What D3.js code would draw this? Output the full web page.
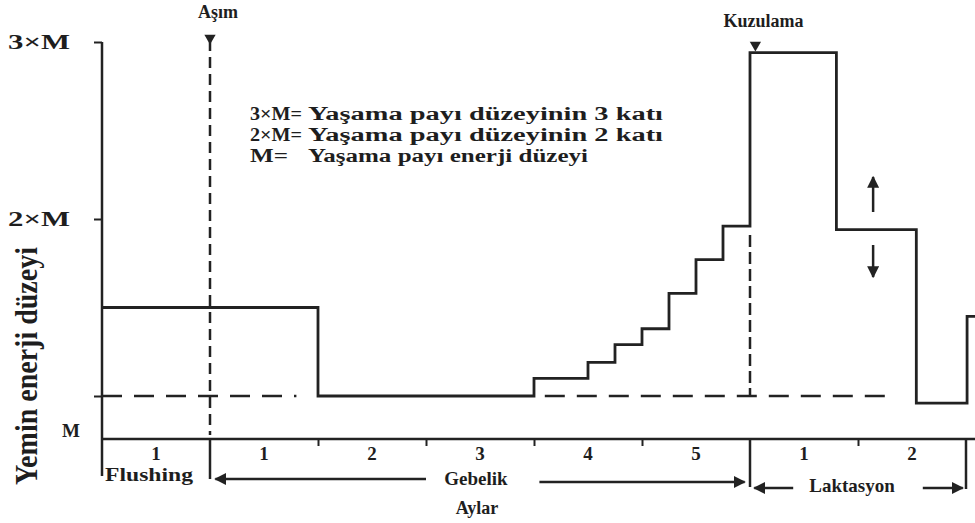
<!DOCTYPE html>
<html>
<head>
<meta charset="utf-8">
<script src="https://cdn.jsdelivr.net/npm/d3@7"></script>
<style>
  body { margin: 0; background: #fff; }
  svg { display: block; }
  text { font-family: "Liberation Serif", "DejaVu Serif", serif; font-weight: bold; fill: #1e1e1e; }
</style>
</head>
<body>
<svg id="svg1" width="975" height="523"></svg>
<script>
// energy level of the ration, in multiples of M, stepping at these months
var stepMonths = [0, 2, 4, 4.5, 4.75, 5, 5.25, 5.5, 5.75, 6, 6.8, 7.54, 8.01];
var stepLevels = [1.5, 1.0, 1.1, 1.19, 1.29, 1.38, 1.58, 1.77, 1.96, 2.94, 1.94, 0.96, 1.45];
var stepEnd = 8.2;

// maintenance level (M) dashed pieces, month from / to
var mLevelPieces = [[0, 1.8], [4.1, 7.3]];

var yTicks = [3, 2, 1];
var yTickLabels = ["3×M", "2×M", ""];

var monthEdges = [0, 1, 2, 3, 4, 5, 6, 7, 8];
var monthNames = ["1", "1", "2", "3", "4", "5", "1", "2"];
var phaseNames = ["Flushing", "Gebelik", "Laktasyon"];

var legendKeys = ["3×M=", "2×M=", "M="];
var legendTexts = ["Yaşama payı düzeyinin 3 katı", "Yaşama payı düzeyinin 2 katı", "Yaşama payı enerji düzeyi"];

var svg = d3.select("#svg1");
var ink = "#222";

var x = d3.scaleLinear().domain([0, 8]).range([102, 966]);
var y = d3.scaleLinear().domain([1, 3]).range([396, 42]);
var baseY = 439;

// arrow heads
var defs = svg.append("defs");
defs.append("marker")
    .attr("id", "headBig")
    .attr("viewBox", "0 0 10 10")
    .attr("refX", 9).attr("refY", 5)
    .attr("markerWidth", 12).attr("markerHeight", 12)
    .attr("markerUnits", "userSpaceOnUse")
    .attr("orient", "auto-start-reverse")
  .append("path")
    .attr("d", "M0,0 L10,5 L0,10 z")
    .attr("fill", ink);

// y axis
var yAxis = svg.append("g")
    .attr("transform", "translate(" + x(0) + ",0)")
    .call(d3.axisLeft(y).tickValues(yTicks).tickSize(8).tickPadding(24)
          .tickFormat(function(d, i) { return yTickLabels[i]; }));
yAxis.select(".domain").remove();
yAxis.selectAll("line").attr("stroke", ink).attr("stroke-width", 2);
yAxis.selectAll("text")
    .attr("font-size", 20)
    .attr("font-family", "Liberation Serif")
    .attr("fill", "#1e1e1e")
    .attr("textLength", function(d) { return d === 1 ? null : 62; })
    .attr("lengthAdjust", "spacingAndGlyphs");

svg.append("line")
    .attr("x1", x(0)).attr("x2", x(0))
    .attr("y1", y(3)).attr("y2", baseY + 37)
    .attr("stroke", ink).attr("stroke-width", 2.5);

svg.append("text")
    .attr("x", 80).attr("y", baseY - 2)
    .attr("text-anchor", "end")
    .attr("font-size", 19)
    .text("M");

svg.append("text")
    .attr("transform", "translate(37,366) rotate(-90)")
    .attr("text-anchor", "middle")
    .attr("font-size", 31)
    .attr("textLength", 238)
    .attr("lengthAdjust", "spacingAndGlyphs")
    .text("Yemin enerji düzeyi");

// x axis (months)
var xAxis = svg.append("g")
    .attr("transform", "translate(0," + baseY + ")")
    .call(d3.axisBottom(x).tickValues([2, 3, 4, 5, 7]).tickSize(7).tickSizeOuter(0)
          .tickFormat(""));
xAxis.select(".domain").remove();
xAxis.selectAll("line").attr("stroke", ink).attr("stroke-width", 2);

svg.append("line")
    .attr("x1", x(0)).attr("x2", 975)
    .attr("y1", baseY).attr("y2", baseY)
    .attr("stroke", ink).attr("stroke-width", 2.5);

var monthMid = monthNames.map(function(d, i) { return (monthEdges[i] + monthEdges[i + 1]) / 2; });
svg.selectAll(".month")
    .data(monthNames)
    .enter()
    .append("text")
      .attr("class", "month")
      .attr("x", function(d, i) { return x(monthMid[i]); })
      .attr("y", baseY + 21)
      .attr("text-anchor", "middle")
      .attr("font-size", 19)
    .text(function(d) { return d; });

// phase separators below the axis
var separators = [[1, baseY + 40], [6, baseY + 48], [8, baseY + 50]];
svg.selectAll(".sep")
    .data(separators)
    .enter()
    .append("line")
      .attr("class", "sep")
      .attr("x1", function(d) { return x(d[0]); })
      .attr("x2", function(d) { return x(d[0]); })
      .attr("y1", baseY)
      .attr("y2", function(d) { return d[1]; })
      .attr("stroke", ink).attr("stroke-width", 2.5);

// phase labels with arrows
svg.append("text")
    .attr("x", x(0) + 3).attr("y", baseY + 42)
    .attr("font-size", 19)
    .attr("textLength", 88)
    .attr("lengthAdjust", "spacingAndGlyphs")
    .text(phaseNames[0]);

svg.append("text")
    .attr("x", x(3.5) - 4).attr("y", baseY + 46)
    .attr("text-anchor", "middle")
    .attr("font-size", 19)
    .text(phaseNames[1]);

svg.append("text")
    .attr("x", x(7) - 6).attr("y", baseY + 53)
    .attr("text-anchor", "middle")
    .attr("font-size", 19)
    .text(phaseNames[2]);

var phaseArrows = [
  [3.0, 1.05, baseY + 40],
  [4.05, 5.95, baseY + 43],
  [6.4, 6.04, baseY + 49],
  [7.6, 7.97, baseY + 49]
];
svg.selectAll(".parrow")
    .data(phaseArrows)
    .enter()
    .append("line")
      .attr("class", "parrow")
      .attr("x1", function(d) { return x(d[0]); })
      .attr("x2", function(d) { return x(d[1]); })
      .attr("y1", function(d) { return d[2]; })
      .attr("y2", function(d) { return d[2]; })
      .attr("stroke", ink).attr("stroke-width", 2.5)
      .attr("marker-end", "url(#headBig)");

svg.append("text")
    .attr("x", x(3.5) - 3).attr("y", baseY + 75)
    .attr("text-anchor", "middle")
    .attr("font-size", 18)
    .text("Aylar");

// maintenance level, dashed
svg.selectAll(".mlevel")
    .data(mLevelPieces)
    .enter()
    .append("line")
      .attr("class", "mlevel")
      .attr("x1", function(d) { return x(d[0]); })
      .attr("x2", function(d) { return x(d[1]); })
      .attr("y1", y(1)).attr("y2", y(1))
      .attr("stroke", ink).attr("stroke-width", 2.5)
      .attr("stroke-dasharray", "20,12");

// mating and lambing markers
svg.append("line")
    .attr("x1", x(1)).attr("x2", x(1))
    .attr("y1", 40).attr("y2", baseY - 4)
    .attr("stroke", ink).attr("stroke-width", 2.5)
    .attr("stroke-dasharray", "11,6");

svg.append("line")
    .attr("x1", x(6)).attr("x2", x(6))
    .attr("y1", y(1.96) + 9).attr("y2", y(1))
    .attr("stroke", ink).attr("stroke-width", 2.5)
    .attr("stroke-dasharray", "12,5");

var markers = [[1, 38, "Aşım", 18], [6.05, 45, "Kuzulama", 27]];
svg.selectAll(".tri")
    .data(markers)
    .enter()
    .append("path")
      .attr("class", "tri")
      .attr("d", d3.symbol(d3.symbolTriangle, 55))
      .attr("transform", function(d) { return "translate(" + x(d[0]) + "," + d[1] + ") rotate(180)"; })
      .attr("fill", ink);

svg.selectAll(".marklabel")
    .data(markers)
    .enter()
    .append("text")
      .attr("class", "marklabel")
      .attr("x", function(d) { return x(d[0]) + 8; })
      .attr("y", function(d) { return d[3]; })
      .attr("text-anchor", "middle")
      .attr("font-size", 18)
    .text(function(d) { return d[2]; });

// energy step line
var pts = stepMonths.map(function(m, i) { return [m, stepLevels[i]]; });
pts.push([stepEnd, stepLevels[stepLevels.length - 1]]);

var line = d3.line()
    .x(function(d) { return x(d[0]); })
    .y(function(d) { return y(d[1]); })
    .curve(d3.curveStepAfter);

svg.append("path")
    .datum(pts)
    .attr("d", line)
    .attr("fill", "none")
    .attr("stroke", ink)
    .attr("stroke-width", 2.8)
    .attr("stroke-linejoin", "miter");

// up / down arrows in lactation
var upDown = [[7.14, 212, 177], [7.14, 245, 277]];
svg.selectAll(".ud")
    .data(upDown)
    .enter()
    .append("line")
      .attr("class", "ud")
      .attr("x1", function(d) { return x(d[0]); })
      .attr("x2", function(d) { return x(d[0]); })
      .attr("y1", function(d) { return d[1]; })
      .attr("y2", function(d) { return d[2]; })
      .attr("stroke", ink).attr("stroke-width", 2.5)
      .attr("marker-end", "url(#headBig)");

// legend
var legend = svg.append("g");
var keyWidths = [52, 52, 38];
legend.selectAll(".lkey")
    .data(legendKeys)
    .enter()
    .append("text")
      .attr("class", "lkey")
      .attr("x", 250)
      .attr("y", function(d, i) { return 120 + i * 21; })
      .attr("font-size", 18)
      .attr("textLength", function(d, i) { return keyWidths[i]; })
      .attr("lengthAdjust", "spacingAndGlyphs")
    .text(function(d) { return d; });

var legendWidths = [355, 355, 280];
legend.selectAll(".ltext")
    .data(legendTexts)
    .enter()
    .append("text")
      .attr("class", "ltext")
      .attr("x", 308)
      .attr("y", function(d, i) { return 120 + i * 21; })
      .attr("font-size", 18)
      .attr("textLength", function(d, i) { return legendWidths[i]; })
      .attr("lengthAdjust", "spacingAndGlyphs")
    .text(function(d) { return d; });
</script>
</body>
</html>
